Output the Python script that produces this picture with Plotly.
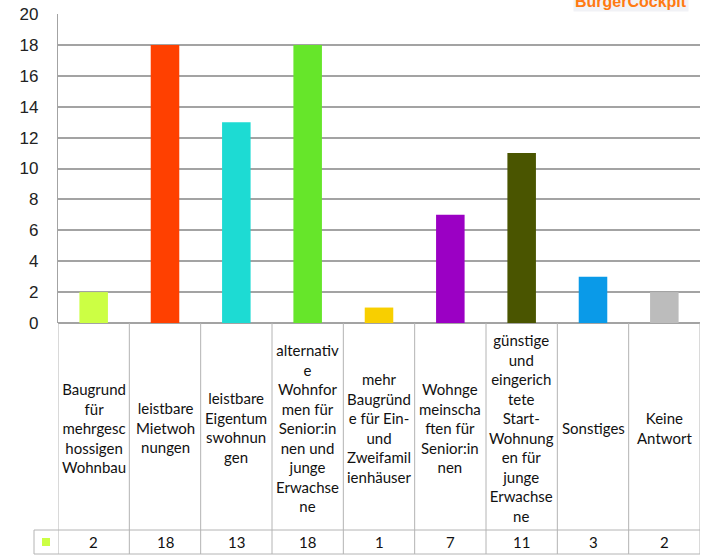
import plotly.graph_objects as go

# Survey results: preferred housing measures
categories = [
    "Baugrund<br>für<br>mehrgesc<br>hossigen<br>Wohnbau",
    "leistbare<br>Mietwoh<br>nungen",
    "leistbare<br>Eigentum<br>swohnun<br>gen",
    "alternativ<br>e<br>Wohnfor<br>men für<br>Senior:in<br>nen und<br>junge<br>Erwachse<br>ne",
    "mehr<br>Baugründ<br>e für Ein-<br>und<br>Zweifamil<br>ienhäuser",
    "Wohnge<br>meinscha<br>ften für<br>Senior:in<br>nen",
    "günstige<br>und<br>eingerich<br>tete<br>Start-<br>Wohnung<br>en für<br>junge<br>Erwachse<br>ne",
    "Sonstiges",
    "Keine<br>Antwort",
]
values = [2, 18, 13, 18, 1, 7, 11, 3, 2]
bar_colors = ["#ccff44", "#ff4000", "#1ddbd3", "#66e62a", "#f8cf00",
              "#9b00c4", "#4a5500", "#0a9ae8", "#bcbcbc"]
y_ticks = list(range(0, 21, 2))

W, H = 702, 555
X0, X1 = 58, 700          # plot area, px
Y_TOP, Y_ZERO = 14, 323   # value 20 / value 0, px
ROW_TOP, ROW_BOT = 530, 554
LEG_X = 34


def py(y):
    return 1 - y / H


def px(x):
    return x / W


xs = list(range(len(categories)))

fig = go.Figure(go.Bar(
    x=xs, y=values, marker_color=bar_colors, marker_line_width=0,
    width=0.4, showlegend=False, hoverinfo="skip",
))

grid_col = "#a3a3a3"
table_col = "#b4b4b4"

fig.update_layout(
    width=W, height=H,
    margin=dict(l=0, r=0, t=0, b=0, pad=0),
    paper_bgcolor="white", plot_bgcolor="white",
    xaxis=dict(range=[-0.5, len(categories) - 0.5], domain=[px(X0), px(X1)],
               showticklabels=False, showgrid=False, zeroline=False,
               automargin=False, fixedrange=True),
    yaxis=dict(range=[0, 20], domain=[py(Y_ZERO), py(Y_TOP)],
               tickvals=y_ticks, ticktext=[str(v) for v in y_ticks],
               tickfont=dict(family="Liberation Sans, Arial", size=17, color="#222222"),
               ticklabelstandoff=15, automargin=False,
               showgrid=True, gridcolor=grid_col, gridwidth=1.6,
               zeroline=True, zerolinecolor=grid_col, zerolinewidth=1.6,
               showline=True, linecolor=grid_col, linewidth=1.4, fixedrange=True),
)

shapes = []
# vertical grid of the data table
for k in range(len(categories) + 1):
    shapes.append(dict(type="line", xref="x", yref="paper",
                       x0=k - 0.5, x1=k - 0.5, y0=py(Y_ZERO), y1=py(ROW_BOT),
                       line=dict(color=table_col, width=1)))
# value row borders including legend key cell
for yy in (ROW_TOP, ROW_BOT):
    shapes.append(dict(type="line", xref="paper", yref="paper",
                       x0=px(LEG_X), x1=px(X1), y0=py(yy), y1=py(yy),
                       line=dict(color=table_col, width=1)))
shapes.append(dict(type="line", xref="paper", yref="paper",
                   x0=px(LEG_X), x1=px(LEG_X), y0=py(ROW_TOP), y1=py(ROW_BOT),
                   line=dict(color=table_col, width=1)))
# legend key
shapes.append(dict(type="rect", xref="paper", yref="paper",
                   x0=px(42), x1=px(50), y0=py(546), y1=py(538),
                   fillcolor=bar_colors[0], line_width=0))
fig.update_layout(shapes=shapes)

annotations = []
label_center = (Y_ZERO + ROW_TOP) / 2 + 1
txt_font = dict(family="Lato, Open Sans", size=15, color="#111111")
for i, (cat, v) in enumerate(zip(categories, values)):
    annotations.append(dict(x=i, y=py(label_center), xref="x", yref="paper",
                            text=cat, showarrow=False, align="center",
                            xanchor="center", yanchor="middle", font=txt_font))
    annotations.append(dict(x=i, y=py((ROW_TOP + ROW_BOT) / 2), xref="x", yref="paper",
                            text=str(v), showarrow=False,
                            xanchor="center", yanchor="middle", font=txt_font))
# brand tag in the top-right corner
annotations.append(dict(x=px(631), y=1, xref="paper", yref="paper",
                        text="<b>BurgerCockpit</b>", showarrow=False,
                        xanchor="center", yanchor="top", yshift=9,
                        bgcolor="#f1f2f6",
                        font=dict(family="Liberation Sans, Arial", size=16, color="#ff7a12")))
fig.update_layout(annotations=annotations)

fig.write_html("out.html")
